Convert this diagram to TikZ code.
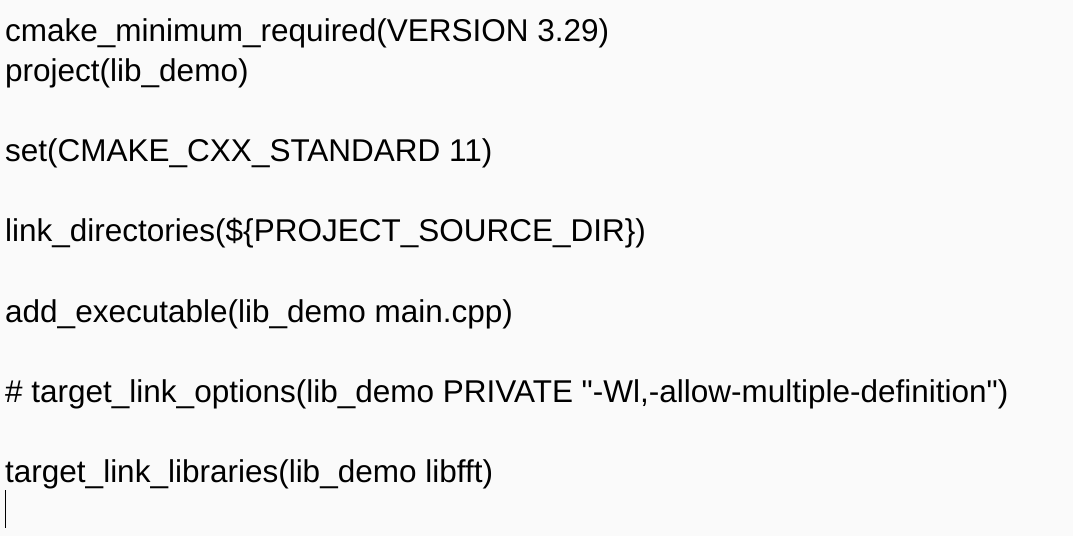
\documentclass[tikz,border=0pt]{standalone}
\usepackage{fontspec}
\newfontfamily\codefont{Liberation Sans}
\begin{document}
\begin{tikzpicture}[x=1pt,y=1pt,code/.style={anchor=base west,inner sep=0pt,font=\codefont\fontsize{31.5}{36}\selectfont,text=black}]
\fill[fill={rgb,255:red,250;green,250;blue,250}] (0,0) rectangle (1073,536);
\useasboundingbox (0,0) rectangle (1073,536);
\node[code] (l1) at (5,494) {cmake\_minimum\_required(VERSION 3.29)};
\node[code] (l2) at (5,454) {project(lib\_demo)};
\node[code] (l3) at (5,374) {set(CMAKE\_CXX\_STANDARD 11)};
\node[code] (l4) at (5,294) {link\_directories(\$\{PROJECT\_SOURCE\_DIR\})};
\node[code] (l5) at (5,214) {add\_executable(lib\_demo main.cpp)};
\node[code] (l6) at (5,134) {\# target\_link\_options(lib\_demo PRIVATE "-Wl,-allow-multiple-definition")};
\node[code] (l7) at (5,54) {target\_link\_libraries(lib\_demo libfft)};
\coordinate (c1) at (5,46);
\coordinate (c2) at (5,8);
\draw[line width=1pt] (c1) -- (c2);
\end{tikzpicture}
\end{document}
